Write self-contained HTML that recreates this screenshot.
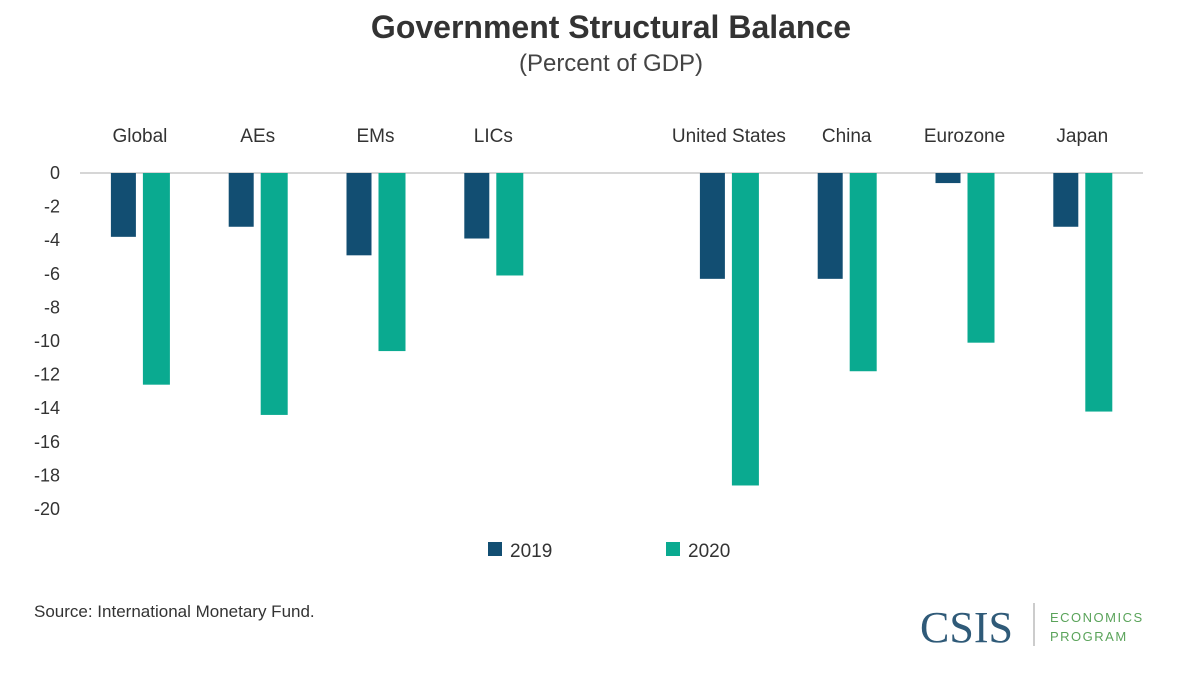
<!DOCTYPE html>
<html><head><meta charset="utf-8"><style>
body{margin:0;background:#fff;font-family:"Liberation Sans",sans-serif;}
svg text{font-family:"Liberation Sans",sans-serif;}
</style></head><body>
<svg width="1200" height="681" viewBox="0 0 1200 681">
<text x="611" y="38" text-anchor="middle" font-size="32" font-weight="bold" fill="#333">Government Structural Balance</text>
<text x="611" y="71" text-anchor="middle" font-size="24" fill="#444">(Percent of GDP)</text>
<g id="yaxis"></g>
<line x1="80" y1="173" x2="1143" y2="173" stroke="#c8c8c8" stroke-width="1.5"/>
<g id="bars"></g>
<g id="cats"></g>
<g>
<rect x="488" y="542" width="14" height="14" fill="#124e72"/>
<text x="510" y="557" font-size="19" fill="#333">2019</text>
<rect x="666" y="542" width="14" height="14" fill="#0aaa90"/>
<text x="688" y="557" font-size="19" fill="#333">2020</text>
</g>
<text x="34" y="617" font-size="17" fill="#333">Source: International Monetary Fund.</text>
<text x="920" y="642" font-size="44" fill="#2f5a78" style="font-family:'Liberation Serif',serif">CSIS</text>
<line x1="1034" y1="603" x2="1034" y2="646" stroke="#999" stroke-width="1"/>
<text x="1050" y="622" font-size="13" fill="#5aa35a" letter-spacing="1.5">ECONOMICS</text>
<text x="1050" y="641" font-size="13" fill="#5aa35a" letter-spacing="1.5">PROGRAM</text>
</svg>
<script>
const categories=["Global","AEs","EMs","LICs","","United States","China","Eurozone","Japan"];
const values2019=[-3.8,-3.2,-4.9,-3.9,null,-6.3,-6.3,-0.6,-3.2];
const values2020=[-12.6,-14.4,-10.6,-6.1,null,-18.6,-11.8,-10.1,-14.2];
const yTicks=[0,-2,-4,-6,-8,-10,-12,-14,-16,-18,-20];
const NS="http://www.w3.org/2000/svg";
const y=v=>173+(-v)*16.8;
const xc=i=>81+(i+0.5)*117.8;
const ya=document.getElementById('yaxis');
yTicks.forEach(t=>{const e=document.createElementNS(NS,'text');


e.setAttribute('x',60);e.setAttribute('y',y(t)+6);e.setAttribute('text-anchor','end');
e.setAttribute('font-size','18');e.setAttribute('fill','#333');e.textContent=t;ya.appendChild(e);});
const bg=document.getElementById('bars'),cg=document.getElementById('cats');
categories.forEach((c,i)=>{
 if(c){const e=document.createElementNS(NS,'text');
 
 
 e.setAttribute('x',xc(i));e.setAttribute('y',142);e.setAttribute('text-anchor','middle');
 e.setAttribute('font-size','19');e.setAttribute('fill','#333');e.textContent=c;cg.appendChild(e);}
 [[values2019[i],-29,25,'#124e72','bar-2019'],[values2020[i],3,27,'#0aaa90','bar-2020']].forEach(([v,o,w,col,n])=>{
  if(v==null)return;const r=document.createElementNS(NS,'rect');
  
  
  r.setAttribute('x',xc(i)+o);r.setAttribute('width',w);
  r.setAttribute('y',Math.min(y(0),y(v)));r.setAttribute('height',Math.abs(y(v)-y(0)));
  r.setAttribute('fill',col);bg.appendChild(r);});
});
</script>
</body></html>
